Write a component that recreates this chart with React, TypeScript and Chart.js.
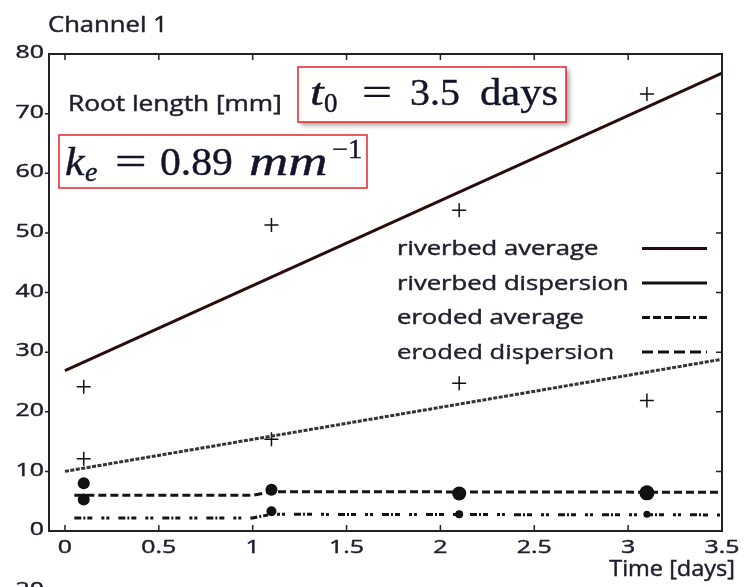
import React, { useEffect, useRef } from "react";
import { Chart, registerables } from "chart.js";

Chart.register(...registerables);

// Sampling days and measured root lengths [mm]
const sampleDays = [0.1, 1.1, 2.1, 3.1];
const riverbedUpper = [24.2, 51.3, 53.8, 73.3];
const riverbedLower = [12.1, 15.4, 24.8, 21.9];
const erodedUpper = [8.0, 6.9, 6.3, 6.4];
const erodedLower = [5.3, 3.3, 2.8, 2.8];

// Fitted curves
const fitDays = [0, 3.5];
const riverbedAverageFit = [26.9, 76.8];
const riverbedDispersionFit = [10.0, 28.8];
const erodedFitDays = [0.05, 1.0, 1.1, 3.5];
const erodedAverageFit = [2.2, 2.2, 2.8, 2.7];
const erodedDispersionFit = [6.0, 6.0, 6.6, 6.5];

// Axis ticks
const dayTicks = [0, 0.5, 1, 1.5, 2, 2.5, 3, 3.5];
const lengthTicks = [0, 10, 20, 30, 40, 50, 60, 70, 80];

const legendLabels = [
  "riverbed average",
  "riverbed dispersion",
  "eroded average",
  "eroded dispersion",
];

const pts = (xs: number[], ys: number[]) => xs.map((x, i) => ({ x, y: ys[i] }));

const SANS = "'Open Sans', sans-serif";
const SERIF = "'Liberation Serif', serif";
const INK = "#1e1e2c";
const MATH_INK = "#14142a";

function stretchedText(
  ctx: CanvasRenderingContext2D,
  text: string,
  x: number,
  y: number,
  align: CanvasTextAlign,
  baseline: CanvasTextBaseline,
  sx: number
) {
  ctx.save();
  ctx.translate(x, y);
  ctx.scale(sx, 1);
  ctx.textAlign = align;
  ctx.textBaseline = baseline;
  ctx.fillText(text, 0, 0);
  ctx.strokeStyle = ctx.fillStyle as string;
  ctx.lineWidth = 0.45;
  ctx.strokeText(text, 0, 0);
  ctx.restore();
}

function mathPiece(
  ctx: CanvasRenderingContext2D,
  text: string,
  x: number,
  y: number,
  size: number,
  italic: boolean,
  sx = 1
) {
  ctx.font = `${italic ? "italic " : ""}${size}px ${SERIF}`;
  ctx.save();
  ctx.translate(x, y);
  ctx.scale(sx, 1);
  ctx.textAlign = "left";
  ctx.textBaseline = "alphabetic";
  ctx.fillStyle = MATH_INK;
  ctx.fillText(text, 0, 0);
  ctx.strokeStyle = MATH_INK;
  ctx.lineWidth = 0.4;
  ctx.strokeText(text, 0, 0);
  ctx.restore();
}

const legendStyles = [
  { color: "#2a0c0c", dash: [] as number[] },
  { color: "#111111", dash: [] as number[] },
  { color: "#111111", dash: [8, 3, 8, 3, 8, 3, 15, 3, 3, 3] },
  { color: "#111111", dash: [11, 5] },
];

const decorations = {
  id: "decorations",
  afterDraw(chart: any) {
    const ctx: CanvasRenderingContext2D = chart.ctx;
    const area = chart.chartArea;
    const xs = chart.scales.x;
    const ys = chart.scales.y;

    ctx.save();

    // frame
    ctx.strokeStyle = "#222";
    ctx.lineWidth = 2;
    ctx.setLineDash([]);
    ctx.strokeRect(area.left, area.top, area.right - area.left, area.bottom - area.top);

    // tick marks: outward on the left, inward elsewhere
    ctx.lineWidth = 1.5;
    ctx.beginPath();
    for (const t of xs.ticks) {
      const px = xs.getPixelForValue(t.value);
      if (px > area.right - 2) continue;
      ctx.moveTo(px, area.bottom);
      ctx.lineTo(px, area.bottom - 6);
      ctx.moveTo(px, area.top);
      ctx.lineTo(px, area.top + 6);
    }
    for (const t of ys.ticks) {
      const py = ys.getPixelForValue(t.value);
      if (py < area.top + 2 || py > area.bottom - 2) continue;
      ctx.moveTo(area.left, py);
      ctx.lineTo(area.left - 4, py);
      ctx.moveTo(area.right, py);
      ctx.lineTo(area.right - 6, py);
    }
    ctx.stroke();

    // tick labels
    ctx.fillStyle = INK;
    ctx.font = `18px ${SANS}`;
    for (const t of xs.ticks) {
      stretchedText(ctx, String(t.value), xs.getPixelForValue(t.value), 548, "center", "middle", 1.38);
    }
    for (const t of ys.ticks) {
      stretchedText(ctx, String(t.value), area.left - 5, ys.getPixelForValue(t.value) - 1, "right", "middle", 1.38);
    }
    // top of the next panel's axis label peeking in at the bottom edge
    stretchedText(ctx, "20", area.left - 5, 590, "right", "middle", 1.38);

    // titles
    ctx.font = `21px ${SANS}`;
    stretchedText(ctx, "Channel 1", 48, 32, "left", "alphabetic", 1.22);
    stretchedText(ctx, "Root length [mm]", 68, 111, "left", "alphabetic", 1.25);
    stretchedText(ctx, "Time [days]", 735, 576, "right", "alphabetic", 1.12);

    // legend
    ctx.font = `20px ${SANS}`;
    legendLabels.forEach((label, i) => {
      const base = 255 + i * 34.5;
      ctx.fillStyle = INK;
      stretchedText(ctx, label, 397, base, "left", "alphabetic", 1.28);
      const st = legendStyles[i];
      ctx.strokeStyle = st.color;
      ctx.lineWidth = 3;
      ctx.setLineDash(st.dash);
      ctx.beginPath();
      ctx.moveTo(642, base - 6.5);
      ctx.lineTo(707, base - 6.5);
      ctx.stroke();
    });
    ctx.setLineDash([]);

    // annotation boxes
    const box = (x: number, y: number, w: number, h: number, shadow: boolean) => {
      ctx.save();
      if (shadow) {
        ctx.shadowColor = "rgba(0,0,0,0.4)";
        ctx.shadowBlur = 5;
        ctx.shadowOffsetX = 3;
        ctx.shadowOffsetY = 3;
      }
      ctx.fillStyle = "#ffffff";
      ctx.fillRect(x, y, w, h);
      ctx.restore();
      ctx.strokeStyle = "#e8202a";
      ctx.lineWidth = 1.5;
      ctx.strokeRect(x, y, w, h);
    };

    box(298, 67, 268, 55, true);
    mathPiece(ctx, "t", 310, 105, 38, true, 1.3);
    mathPiece(ctx, "0", 324, 112, 27, false);
    mathPiece(ctx, "=", 362, 105, 38, false, 1.4);
    mathPiece(ctx, "3.5", 410, 105, 38, false, 1.05);
    mathPiece(ctx, "days", 480, 105, 38, false, 1.12);

    box(59, 135, 308, 53, false);
    mathPiece(ctx, "k", 65, 175, 40, true, 1.1);
    mathPiece(ctx, "e", 85, 181, 28, true);
    mathPiece(ctx, "=", 115, 175, 40, false, 1.4);
    mathPiece(ctx, "0.89", 160, 175, 40, false, 1.04);
    mathPiece(ctx, "mm", 249, 175, 40, true, 1.36);
    mathPiece(ctx, "\u22121", 332, 158, 27, false, 1.05);

    ctx.restore();
  },
};

export default function App() {
  const canvasRef = useRef<HTMLCanvasElement | null>(null);

  useEffect(() => {
    const canvas = canvasRef.current;
    if (!canvas) return;

    const lineBase = { type: "line" as const, pointRadius: 0, fill: false, showLine: true, tension: 0 };

    const chart = new Chart(canvas, {
      type: "scatter",
      data: {
        datasets: [
          {
            ...lineBase,
            label: "riverbed average",
            data: pts(fitDays, riverbedAverageFit),
            borderColor: "#2a0c0c",
            borderWidth: 3,
          },
          {
            ...lineBase,
            label: "riverbed dispersion",
            data: pts(fitDays, riverbedDispersionFit),
            borderColor: "#333333",
            borderWidth: 3,
            borderDash: [4, 1.5],
          },
          {
            ...lineBase,
            label: "eroded average",
            data: pts(erodedFitDays, erodedAverageFit),
            borderColor: "#141414",
            borderWidth: 3,
            borderDash: [7, 2, 2, 2, 5, 9, 3, 2, 3, 9],
          },
          {
            ...lineBase,
            label: "eroded dispersion",
            data: pts(erodedFitDays, erodedDispersionFit),
            borderColor: "#141414",
            borderWidth: 3,
            borderDash: [8, 4],
          },
          {
            label: "riverbed samples (upper)",
            data: pts(sampleDays, riverbedUpper),
            pointStyle: "cross",
            pointRadius: 7,
            borderColor: "#111",
            borderWidth: 1.5,
          },
          {
            label: "riverbed samples (lower)",
            data: pts(sampleDays, riverbedLower),
            pointStyle: "cross",
            pointRadius: 7,
            borderColor: "#111",
            borderWidth: 1.5,
          },
          {
            label: "eroded samples (upper)",
            data: pts(sampleDays, erodedUpper),
            pointStyle: "circle",
            pointRadius: [6, 6, 7, 7.5],
            backgroundColor: "#111",
            borderColor: "#111",
            borderWidth: 0,
          },
          {
            label: "eroded samples (lower)",
            data: pts(sampleDays, erodedLower),
            pointStyle: "circle",
            pointRadius: [6, 5, 4, 3.5],
            backgroundColor: "#111",
            borderColor: "#111",
            borderWidth: 0,
          },
        ],
      },
      options: {
        animation: false,
        responsive: false,
        devicePixelRatio: 1,
        layout: { padding: { top: 54, right: 22, left: 0, bottom: 0 } },
        plugins: { legend: { display: false }, tooltip: { enabled: false } },
        scales: {
          x: {
            type: "linear",
            min: -0.085,
            max: 3.5,
            afterBuildTicks: (s: any) => {
              s.ticks = dayTicks.map((v) => ({ value: v }));
            },
            afterFit: (s: any) => {
              s.height = 56;
            },
            ticks: { display: false },
            grid: { display: false },
            border: { display: false },
          },
          y: {
            type: "linear",
            min: 0,
            max: 80,
            afterBuildTicks: (s: any) => {
              s.ticks = lengthTicks.map((v) => ({ value: v }));
            },
            afterFit: (s: any) => {
              s.width = 49;
            },
            ticks: { display: false },
            grid: { display: false },
            border: { display: false },
          },
        },
      },
      plugins: [decorations],
    } as any);

    return () => chart.destroy();
  }, []);

  return (
    <div
      style={{
        position: "fixed",
        left: 0,
        top: 0,
        width: 744,
        height: 587,
        background: "#ffffff",
        overflow: "hidden",
      }}
    >
      <canvas ref={canvasRef} width={744} height={587} style={{ display: "block" }} />
    </div>
  );
}
